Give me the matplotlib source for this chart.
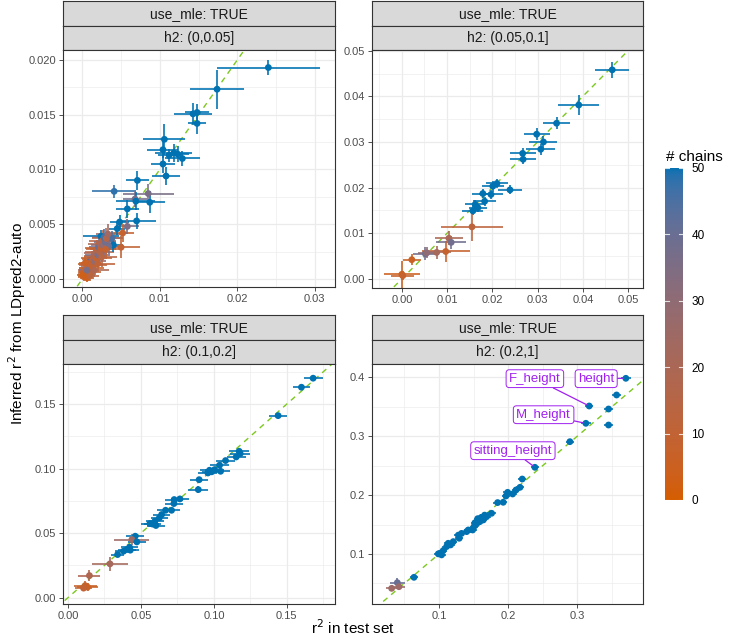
import numpy as np
import matplotlib
matplotlib.use("Agg")
import matplotlib.pyplot as plt
from matplotlib.colors import ListedColormap, Normalize
from matplotlib.ticker import FixedLocator

plt.rcParams['font.family'] = ['Liberation Sans', 'DejaVu Sans']

# ---------------- data ----------------
# panel h2: (0,0.05]
tl_x = [0.0240, 0.01738, 0.01428, 0.0148, 0.0148, 0.01058, 0.0104, 0.0118, 0.0112, 0.0123,
        0.0129, 0.0104, 0.0108, 0.0071, 0.0041, 0.0085, 0.0068, 0.0069, 0.0087, 0.0058,
        0.0070, 0.0048, 0.0045, 0.0058, 0.0024, 0.0052, 0.0038, 0.0050, 0.0040, 0.0034,
        0.0028, 0.0008,
        0.0002, 0.0004, 0.0001, 0.0006, 0.0008, 0.0005, 0.0010, 0.0009, 0.0012, 0.0011,
        0.0014, 0.0013, 0.0016, 0.0015, 0.0018, 0.0017, 0.0020, 0.0019, 0.0022, 0.0021,
        0.0024, 0.0023, 0.0026, 0.0026, 0.0029, 0.0028, 0.0031, 0.0033, 0.0006, 0.0001,
        0.0007, 0.0010, 0.0015, 0.0004, 0.0006, 0.0020, 0.0025, 0.0030]
tl_y = [0.0193, 0.01732, 0.01507, 0.0152, 0.0142, 0.01275, 0.0118, 0.0115, 0.0113, 0.0114,
        0.0110, 0.0105, 0.0094, 0.0090, 0.0080, 0.0078, 0.0073, 0.0071, 0.0070, 0.0064,
        0.0053, 0.0052, 0.0046, 0.0048, 0.0039, 0.0042, 0.0037, 0.0029, 0.0031, 0.0030,
        0.0027, 0.0015,
        0.0002, 0.0003, 0.0006, 0.0005, 0.0008, 0.0010, 0.0006, 0.0012, 0.0010, 0.0015,
        0.0013, 0.0018, 0.0016, 0.0021, 0.0019, 0.0024, 0.0022, 0.0027, 0.0025, 0.0029,
        0.0028, 0.0032, 0.0031, 0.0035, 0.0034, 0.0038, 0.0037, 0.0041, 0.0001, 0.0004,
        0.0014, 0.0003, 0.0008, 0.0015, 0.0008, 0.0014, 0.0020, 0.0027]
tl_xerr = [0.0066, 0.0035, 0.0024, 0.0015, 0.0012, 0.0027, 0.0020, 0.0024, 0.0015, 0.0015,
           0.0023, 0.0016, 0.0018, 0.0015, 0.0028, 0.0033, 0.0015, 0.0025, 0.0020, 0.0015,
           0.0025, 0.0012, 0.0010, 0.0015, 0.0023, 0.0015, 0.0015, 0.0025, 0.0012, 0.0015,
           0.0015, 0.0010,
           0.0008, 0.0010, 0.0007, 0.0012, 0.0010, 0.0009, 0.0014, 0.0011, 0.0016, 0.0012,
           0.0018, 0.0014, 0.0015, 0.0013, 0.0020, 0.0015, 0.0016, 0.0014, 0.0019, 0.0013,
           0.0020, 0.0016, 0.0015, 0.0017, 0.0014, 0.0015, 0.0018, 0.0016, 0.0009, 0.0008,
           0.0012, 0.0012, 0.0020, 0.0008, 0.0010, 0.0022, 0.0020, 0.0020]
tl_yerr = [0.0007, 0.0018, 0.0010, 0.0008, 0.0010, 0.0014, 0.0008, 0.0008, 0.0006, 0.0007,
           0.0007, 0.0008, 0.0008, 0.0009, 0.0006, 0.0009, 0.0007, 0.0008, 0.0010, 0.0008,
           0.0007, 0.0006, 0.0006, 0.0007, 0.0006, 0.0008, 0.0007, 0.0010, 0.0006, 0.0007,
           0.0008, 0.0005,
           0.0004, 0.0004, 0.0005, 0.0005, 0.0005, 0.0006, 0.0005, 0.0006, 0.0006, 0.0007,
           0.0006, 0.0008, 0.0007, 0.0008, 0.0008, 0.0009, 0.0008, 0.0009, 0.0009, 0.0008,
           0.0010, 0.0009, 0.0008, 0.0010, 0.0008, 0.0008, 0.0010, 0.0009, 0.0004, 0.0004,
           0.0006, 0.0005, 0.0006, 0.0006, 0.0005, 0.0008, 0.0009, 0.0009]
tl_chains = [50, 50, 50, 50, 50, 50, 50, 50, 50, 50,
             50, 50, 50, 50, 48, 36, 38, 50, 50, 50,
             50, 50, 50, 35, 50, 8, 45, 10, 50, 38,
             30, 45,
             8, 5, 10, 12, 6, 15, 9, 20, 7, 25,
             11, 14, 30, 18, 9, 22, 35, 12, 16, 40,
             8, 20, 28, 14, 38, 45, 17, 24, 4, 3,
             10, 13, 19, 6, 36, 11, 15, 9]

# panel h2: (0.05,0.1]
tr_x = [0.0465, 0.0391, 0.0342, 0.0298, 0.0313, 0.0307, 0.0267, 0.0268, 0.0210, 0.0201,
        0.0239, 0.0197, 0.0179, 0.0183, 0.0162, 0.0168, 0.0157, 0.0155, 0.0104, 0.0109,
        0.0097, 0.0077, 0.0052, 0.0055, 0.0022, 0.0000, 0.0002]
tr_y = [0.0458, 0.0381, 0.0341, 0.0317, 0.0300, 0.0284, 0.0275, 0.0262, 0.0209, 0.0203,
        0.0195, 0.0185, 0.0187, 0.0170, 0.0163, 0.0156, 0.0149, 0.0114, 0.0089, 0.0080,
        0.0060, 0.0058, 0.0055, 0.0057, 0.0042, 0.0010, 0.0007]
tr_xerr = [0.0037, 0.0045, 0.0029, 0.0029, 0.0031, 0.0032, 0.0029, 0.0028, 0.0025, 0.0024,
           0.0026, 0.0026, 0.0024, 0.0026, 0.0022, 0.0020, 0.0023, 0.0069, 0.0031, 0.0033,
           0.0053, 0.0031, 0.0028, 0.0020, 0.0020, 0.0039, 0.0025]
tr_yerr = [0.0017, 0.0022, 0.0013, 0.0013, 0.0013, 0.0012, 0.0012, 0.0010, 0.0010, 0.0012,
           0.0010, 0.0010, 0.0010, 0.0010, 0.0010, 0.0009, 0.0010, 0.0030, 0.0015, 0.0014,
           0.0024, 0.0014, 0.0014, 0.0012, 0.0012, 0.0029, 0.0010]
tr_chains = [50, 50, 50, 50, 50, 50, 50, 50, 50, 50,
             50, 50, 50, 50, 50, 50, 50, 12, 20, 38,
             8, 22, 38, 30, 6, 5, 8]

# panel h2: (0.1,0.2]
bl_x = [0.168, 0.160, 0.144, 0.1173, 0.1180, 0.1153, 0.1080, 0.1039, 0.1005, 0.0970,
        0.0959, 0.1046, 0.0899, 0.0893, 0.0767, 0.0728, 0.0726, 0.0710, 0.0669, 0.0642,
        0.0626, 0.0596, 0.0562, 0.0603, 0.0580, 0.0985, 0.0461, 0.0438, 0.0472, 0.0422,
        0.0404, 0.0427, 0.0381, 0.0340, 0.0288, 0.0147, 0.0118, 0.0134, 0.0107]
bl_y = [0.170, 0.163, 0.141, 0.1134, 0.1116, 0.1090, 0.1062, 0.1026, 0.0992, 0.0987,
        0.0966, 0.0979, 0.0914, 0.0837, 0.0765, 0.0760, 0.0729, 0.0677, 0.0677, 0.0644,
        0.0618, 0.0592, 0.0574, 0.0559, 0.0570, 0.0975, 0.0476, 0.0450, 0.0432, 0.0391,
        0.0373, 0.0368, 0.0360, 0.0334, 0.0262, 0.0171, 0.0093, 0.0082, 0.0074]
bl_xerr = [0.0065, 0.0060, 0.0060, 0.0070, 0.0070, 0.0065, 0.0065, 0.0065, 0.0065, 0.0065,
           0.0065, 0.0065, 0.0060, 0.0070, 0.0060, 0.0060, 0.0060, 0.0060, 0.0060, 0.0060,
           0.0060, 0.0060, 0.0060, 0.0060, 0.0060, 0.0065, 0.0060, 0.0120, 0.0060, 0.0060,
           0.0060, 0.0060, 0.0060, 0.0045, 0.0125, 0.0075, 0.0080, 0.0070, 0.0060]
bl_yerr = [0.0020, 0.0020, 0.0020, 0.0018, 0.0018, 0.0018, 0.0018, 0.0018, 0.0018, 0.0018,
           0.0018, 0.0018, 0.0018, 0.0030, 0.0016, 0.0016, 0.0016, 0.0016, 0.0016, 0.0016,
           0.0016, 0.0016, 0.0016, 0.0016, 0.0016, 0.0018, 0.0020, 0.0040, 0.0016, 0.0016,
           0.0016, 0.0016, 0.0016, 0.0012, 0.0055, 0.0040, 0.0035, 0.0030, 0.0025]
bl_chains = [50, 50, 50, 50, 50, 50, 50, 50, 50, 50,
             50, 50, 50, 50, 50, 50, 50, 50, 50, 50,
             50, 50, 50, 50, 50, 50, 50, 25, 50, 50,
             50, 50, 50, 50, 22, 18, 8, 6, 10]

# panel h2: (0.2,1]
br_x = [0.3702, 0.3568, 0.3452, 0.3172, 0.3124, 0.3452, 0.2893, 0.2387, 0.2204, 0.2172,
        0.2114, 0.2065, 0.1993, 0.1969, 0.1929, 0.1848, 0.1761, 0.1689, 0.1641, 0.1592,
        0.1544, 0.1506, 0.1487, 0.1424, 0.1400, 0.1327, 0.1280, 0.1293, 0.1207, 0.1168,
        0.1110, 0.1134, 0.1062, 0.1014, 0.0990, 0.1038, 0.1610, 0.1560, 0.1660, 0.1520,
        0.0639, 0.0398, 0.0422, 0.0316]
br_y = [0.3983, 0.3700, 0.3462, 0.3513, 0.3219, 0.3190, 0.2907, 0.2472, 0.2273, 0.2132,
        0.2087, 0.2019, 0.2047, 0.1985, 0.1878, 0.1873, 0.1691, 0.1634, 0.1578, 0.1550,
        0.1510, 0.1465, 0.1408, 0.1408, 0.1380, 0.1350, 0.1320, 0.1267, 0.1210, 0.1154,
        0.1126, 0.1182, 0.1058, 0.1013, 0.1002, 0.0985, 0.1620, 0.1600, 0.1660, 0.1530,
        0.0604, 0.0513, 0.0445, 0.0417]
br_xerr = [0.0070, 0.0060, 0.0060, 0.0060, 0.0070, 0.0060, 0.0060, 0.0060, 0.0060, 0.0060,
           0.0060, 0.0060, 0.0060, 0.0060, 0.0060, 0.0060, 0.0060, 0.0060, 0.0060, 0.0060,
           0.0060, 0.0060, 0.0060, 0.0060, 0.0060, 0.0060, 0.0060, 0.0060, 0.0060, 0.0060,
           0.0060, 0.0060, 0.0060, 0.0060, 0.0060, 0.0060, 0.0060, 0.0060, 0.0060, 0.0060,
           0.0060, 0.0110, 0.0090, 0.0080]
br_yerr = [0.0035, 0.0035, 0.0035, 0.0040, 0.0040, 0.0035, 0.0035, 0.0035, 0.0035, 0.0035,
           0.0035, 0.0035, 0.0035, 0.0035, 0.0035, 0.0035, 0.0035, 0.0035, 0.0035, 0.0035,
           0.0035, 0.0035, 0.0035, 0.0035, 0.0035, 0.0035, 0.0035, 0.0035, 0.0035, 0.0035,
           0.0035, 0.0035, 0.0035, 0.0035, 0.0035, 0.0035, 0.0035, 0.0035, 0.0035, 0.0035,
           0.0040, 0.0080, 0.0060, 0.0050]
br_chains = [50] * 41 + [40, 26, 25]

br_labels = ["height", "F_height", "M_height", "sitting_height"]
br_label_idx = [0, 3, 4, 7]
br_label_x = [0.3273, 0.2387, 0.2513, 0.2069]
br_label_y = [0.3977, 0.3977, 0.3365, 0.2754]

strip_top = "use_mle: TRUE"
strip_h2 = ["h2: (0,0.05]", "h2: (0.05,0.1]", "h2: (0.1,0.2]", "h2: (0.2,1]"]

# ---------------- colour scale (Lab interpolation like ggplot) ----------------
_M = np.array([[0.4124564, 0.3575761, 0.1804375],
               [0.2126729, 0.7151522, 0.0721750],
               [0.0193339, 0.1191920, 0.9503041]])
_WP = np.array([0.95047, 1.0, 1.08883])


def hex2rgb(h):
    h = h.lstrip('#')
    return np.array([int(h[i:i + 2], 16) / 255 for i in (0, 2, 4)])


def srgb_to_lab(rgb):
    lin = np.where(rgb <= 0.04045, rgb / 12.92, ((rgb + 0.055) / 1.055) ** 2.4)
    t = (_M @ lin) / _WP
    d = 6 / 29
    f = np.where(t > d ** 3, np.cbrt(t), t / (3 * d * d) + 4 / 29)
    return np.array([116 * f[1] - 16, 500 * (f[0] - f[1]), 200 * (f[1] - f[2])])


def lab_to_srgb(lab):
    L, a, b = lab
    fy = (L + 16) / 116
    f = np.array([fy + a / 500, fy, fy - b / 200])
    d = 6 / 29
    t = np.where(f > d, f ** 3, 3 * d * d * (f - 4 / 29))
    lin = np.linalg.solve(_M, t * _WP)
    lin = np.clip(lin, 0, 1)
    rgb = np.where(lin <= 0.0031308, 12.92 * lin, 1.055 * lin ** (1 / 2.4) - 0.055)
    return np.clip(rgb, 0, 1)


lab_lo = srgb_to_lab(hex2rgb("#D55E00"))
lab_hi = srgb_to_lab(hex2rgb("#0072B2"))
cols = [lab_to_srgb(lab_lo + (lab_hi - lab_lo) * t) for t in np.linspace(0, 1, 256)]
cmap = ListedColormap(cols)
norm = Normalize(0, 50)

# ---------------- figure ----------------
W, H = 733, 641
DPI = 100
fig = plt.figure(figsize=(W / DPI, H / DPI), dpi=DPI)


def px_axes(x0, y0, x1, y1, **kw):
    return fig.add_axes([x0 / W, 1 - y1 / H, (x1 - x0) / W, (y1 - y0) / H], **kw)


GRID = '#EBEBEB'
BORDER = '#333333'
LINE_GREEN = '#7CC81E'


def draw_strip(x0, x1, ytop, label):
    sa = px_axes(x0, ytop, x1, ytop + 24.5)
    sa.set_facecolor('#D9D9D9')
    sa.set_xticks([])
    sa.set_yticks([])
    for s in sa.spines.values():
        s.set_color(BORDER)
        s.set_linewidth(0.8)
    sa.text(0.5, 0.47, label, ha='center', va='center', fontsize=10,
            color='#1A1A1A', transform=sa.transAxes)


def panel(box, xs, ys, xe, ye, ch, xlim, ylim, xmaj, xmin, ymaj, ymin, xfmt, yfmt, h2):
    x0, y0, x1, y1 = box
    draw_strip(x0, x1, y0 - 49, strip_top)
    draw_strip(x0, x1, y0 - 24.5, h2)
    ax = px_axes(x0, y0, x1, y1)
    ax.set_xlim(*xlim)
    ax.set_ylim(*ylim)
    ax.xaxis.set_major_locator(FixedLocator(xmaj))
    ax.yaxis.set_major_locator(FixedLocator(ymaj))
    ax.xaxis.set_minor_locator(FixedLocator(xmin))
    ax.yaxis.set_minor_locator(FixedLocator(ymin))
    ax.set_xticklabels([xfmt.format(v) for v in xmaj])
    ax.set_yticklabels([yfmt.format(v) for v in ymaj])
    ax.grid(which='major', color=GRID, lw=0.9, zorder=0)
    ax.grid(which='minor', color=GRID, lw=0.45, zorder=0)
    ax.set_axisbelow(True)
    ax.tick_params(which='major', length=3, width=0.6, color=BORDER,
                   labelcolor='#4D4D4D', labelsize=8, pad=2)
    ax.tick_params(which='minor', length=0)
    for s in ax.spines.values():
        s.set_color(BORDER)
        s.set_linewidth(0.8)
    xs = np.array(xs); ys = np.array(ys); xe = np.array(xe); ye = np.array(ye)
    ch = np.array(ch, float)
    c = cmap(norm(ch))
    lo = min(xlim[0], ylim[0]) - 1
    hi = max(xlim[1], ylim[1]) + 1
    ax.plot([lo, hi], [lo, hi], color=LINE_GREEN, lw=1.0, ls=(0, (4, 3.5)), zorder=1)
    ax.hlines(ys, xs - xe, xs + xe, colors=c, lw=1.3, alpha=0.9, zorder=2)
    ax.vlines(xs, ys - ye, ys + ye, colors=c, lw=1.3, alpha=0.9, zorder=2)
    ax.scatter(xs, ys, c=ch, cmap=cmap, norm=norm, s=24, linewidths=0, zorder=3)
    return ax


panel((63, 50, 335, 287), tl_x, tl_y, tl_xerr, tl_yerr, tl_chains,
      (-0.0025, 0.0326), (-0.00073, 0.0209),
      [0.0, 0.01, 0.02, 0.03], [0.005, 0.015, 0.025],
      [0.0, 0.005, 0.01, 0.015, 0.02], [0.0025, 0.0075, 0.0125, 0.0175],
      "{:.2f}", "{:.3f}", strip_h2[0])

panel((372, 50, 643, 288), tr_x, tr_y, tr_xerr, tr_yerr, tr_chains,
      (-0.0066, 0.0533), (-0.0020, 0.05015),
      [0.0, 0.01, 0.02, 0.03, 0.04, 0.05], [-0.005, 0.005, 0.015, 0.025, 0.035, 0.045],
      [0.0, 0.01, 0.02, 0.03, 0.04, 0.05], [0.005, 0.015, 0.025, 0.035, 0.045],
      "{:.2f}", "{:.2f}", strip_h2[1])

panel((63, 364, 335, 604), bl_x, bl_y, bl_xerr, bl_yerr, bl_chains,
      (-0.0034, 0.183), (-0.0049, 0.181),
      [0.0, 0.05, 0.10, 0.15], [0.025, 0.075, 0.125, 0.175],
      [0.0, 0.05, 0.10, 0.15], [0.025, 0.075, 0.125, 0.175],
      "{:.2f}", "{:.2f}", strip_h2[2])

ax_br = panel((372, 364, 643, 604), br_x, br_y, br_xerr, br_yerr, br_chains,
              (0.0032, 0.395), (0.0151, 0.4226),
              [0.1, 0.2, 0.3], [0.05, 0.15, 0.25, 0.35],
              [0.1, 0.2, 0.3, 0.4], [0.05, 0.15, 0.25, 0.35],
              "{:.1f}", "{:.1f}", strip_h2[3])

PURPLE = '#A020F0'
for lab, i, lx, ly in zip(br_labels, br_label_idx, br_label_x, br_label_y):
    ax_br.annotate(lab, xy=(br_x[i], br_y[i]), xytext=(lx, ly),
                   ha='center', va='center', fontsize=9.5, color=PURPLE, zorder=5,
                   bbox=dict(boxstyle='round,pad=0.22,rounding_size=0.25', fc='white',
                             ec=PURPLE, lw=0.7),
                   arrowprops=dict(arrowstyle='-', color=PURPLE, lw=0.9,
                                   shrinkA=0, shrinkB=2))

# axis titles
fig.text(17 / W, 1 - 324 / H, 'Inferred r$^2$ from LDpred2-auto', rotation=90,
         ha='center', va='center', fontsize=11, color='black')
fig.text(353 / W, 1 - 628 / H, 'r$^2$ in test set', ha='center', va='center',
         fontsize=11, color='black')

# colour bar
cb = px_axes(665, 168, 683, 500)
grad = np.linspace(0, 50, 256).reshape(-1, 1)
cb.imshow(grad, cmap=cmap, norm=norm, aspect='auto', origin='lower',
          extent=[0, 1, 0, 50])
cb.set_xlim(0, 1)
cb.set_ylim(0, 50)
for v in range(0, 51, 10):
    cb.plot([0, 0.2], [v, v], color='white', lw=0.8, alpha=0.8)
    cb.plot([0.8, 1], [v, v], color='white', lw=0.8, alpha=0.8)
cb.set_xticks([])
cb.set_yticks(range(0, 51, 10))
cb.tick_params(left=False, right=False, labelleft=False, labelright=True,
               length=0, pad=6, labelsize=8.5, labelcolor='black')
for s in cb.spines.values():
    s.set_visible(False)
fig.text(666 / W, 1 - 157 / H, '# chains', ha='left', va='center', fontsize=11)

fig.savefig('out.png', dpi=DPI)
